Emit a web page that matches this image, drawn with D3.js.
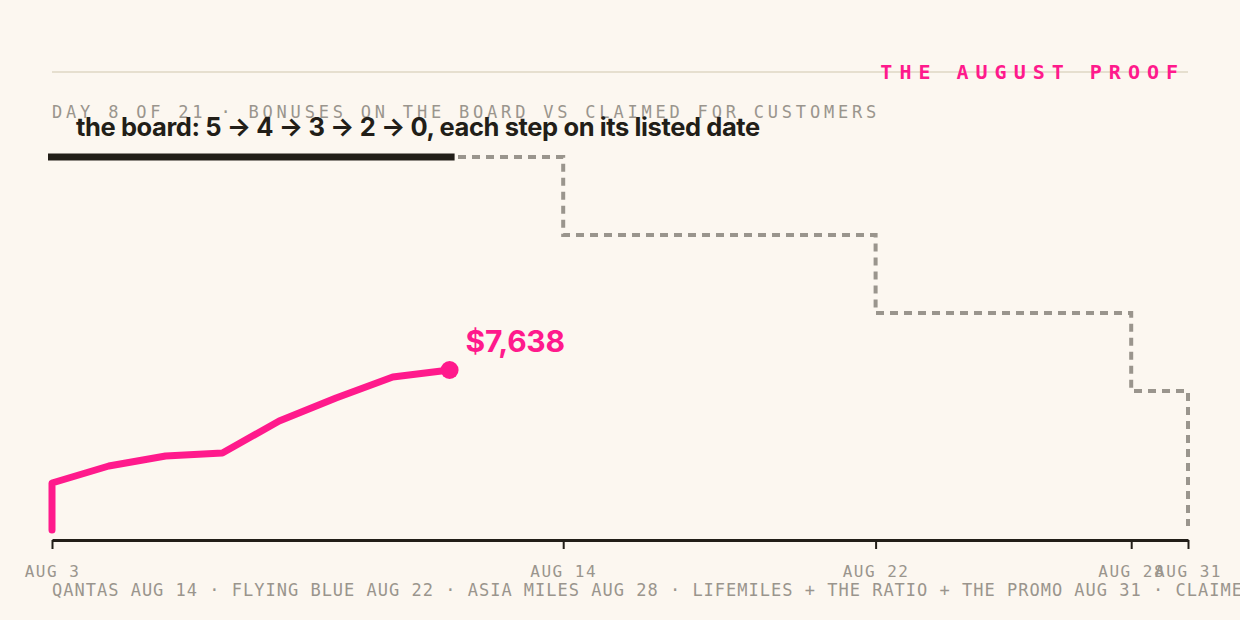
<!DOCTYPE html>
<html><head><meta charset="utf-8">
<script src="https://cdn.jsdelivr.net/npm/d3@7"></script>
<style>
body{margin:0;background:#fcf7f0;overflow:hidden}
.mono{font-family:"DejaVu Sans Mono",monospace}
</style></head>
<body><svg id="chart" width="1240" height="620"></svg>
<script>
// program days (Aug 3 = day 1 ... Aug 31 = day 21)
const claimedDays = [1, 1, 2, 3, 4, 5, 6, 7, 8];
const claimedValues = [0, 2243, 3055, 3532, 3675, 5203, 6301, 7303, 7638];
const boardDays = [1, 10, 10, 15.5, 15.5, 20, 20, 21, 21];
const boardValues = [5, 5, 4, 4, 3, 3, 2, 2, 0];
const tickDays = [1, 10, 15.5, 20, 21];
const tickLabels = ["AUG 3", "AUG 14", "AUG 22", "AUG 28", "AUG 31"];
const today = 8;

const pink = "#ff1a8c", ink = "#221e18", grey = "#9a958d";
const svg = d3.select("#chart");
svg.append("rect").attr("width", 1240).attr("height", 620).attr("fill", "#fcf7f0");

const x = d3.scaleLinear().domain([1, 21]).range([52, 1188]);
const yBoard = d3.scaleLinear().domain([0, 5]).range([547, 157]);
const yCash = d3.scaleLinear().domain([0, 7638]).range([530, 370]);

// header
svg.append("line").attr("x1", 52).attr("x2", 1188).attr("y1", 72).attr("y2", 72)
    .attr("stroke", "#e6dfcf").attr("stroke-width", 2);
svg.append("text").attr("class", "mono").attr("x", 1185).attr("y", 79)
    .attr("text-anchor", "end").attr("fill", pink).style("font-size", "20px")
    .style("font-weight", "bold").style("letter-spacing", "7px").text("THE AUGUST PROOF");
svg.append("text").attr("class", "mono").attr("x", 52).attr("y", 118)
    .attr("fill", grey).style("font-size", "17px").style("letter-spacing", "3.8px")
    .text("DAY 8 OF 21 · BONUSES ON THE BOARD VS CLAIMED FOR CUSTOMERS");

// board step line (dashed)
svg.append("clipPath").attr("id", "clip").append("rect")
    .attr("x", 0).attr("y", 0).attr("width", 1240).attr("height", 526);
svg.append("path")
    .datum(boardDays.map((d, i) => [d, boardValues[i]]))
    .attr("clip-path", "url(#clip)")
    .attr("d", d3.line().x(d => x(d[0])).y(d => yBoard(d[1])))
    .attr("fill", "none").attr("stroke", grey).attr("stroke-width", 4)
    .attr("stroke-dasharray", "8,6");
// elapsed part of the board
svg.append("line").attr("x1", x(1) - 4).attr("x2", x(today) + 5)
    .attr("y1", yBoard(5)).attr("y2", yBoard(5))
    .attr("stroke", ink).attr("stroke-width", 7);

svg.append("text").attr("x", 76).attr("y", 136).attr("fill", ink)
    .style("font-family", "Inter, sans-serif").style("font-weight", 700)
    .style("font-size", "25.5px").style("letter-spacing", "-0.4px")
    .text("the board: 5 → 4 → 3 → 2 → 0, each step on its listed date");

// claimed line
svg.append("path")
    .datum(claimedDays.map((d, i) => [d, claimedValues[i]]))
    .attr("d", d3.line().x(d => x(d[0])).y(d => yCash(d[1])))
    .attr("fill", "none").attr("stroke", pink).attr("stroke-width", 7)
    .attr("stroke-linejoin", "round").attr("stroke-linecap", "round");
const last = claimedValues.length - 1;
svg.append("circle").attr("cx", x(claimedDays[last])).attr("cy", yCash(claimedValues[last]))
    .attr("r", 9).attr("fill", pink);
svg.append("text").attr("x", x(claimedDays[last]) + 16).attr("y", yCash(claimedValues[last]) - 18)
    .attr("fill", pink).style("font-family", "Inter, sans-serif").style("font-weight", 700)
    .style("font-size", "30px").style("letter-spacing", "-0.3px")
    .text("$" + d3.format(",")(claimedValues[last]));

// axis
const axis = svg.append("g").attr("transform", "translate(0,540)")
    .call(d3.axisBottom(x).tickValues(tickDays).tickSize(9).tickSizeOuter(0).tickFormat((d, i) => tickLabels[i]));
axis.select(".domain").attr("stroke", ink).attr("stroke-width", 3);
axis.selectAll(".tick line").attr("stroke", ink).attr("stroke-width", 2);
axis.selectAll(".tick text").attr("class", "mono").attr("y", 26).attr("fill", grey)
    .style("font-size", "16px").style("letter-spacing", "1.5px");

svg.append("text").attr("class", "mono").attr("x", 52).attr("y", 596)
    .attr("fill", grey).style("font-size", "17px").style("letter-spacing", "1px")
    .text("QANTAS AUG 14 · FLYING BLUE AUG 22 · ASIA MILES AUG 28 · LIFEMILES + THE RATIO + THE PROMO AUG 31 · CLAIMED");
</script></body></html>
